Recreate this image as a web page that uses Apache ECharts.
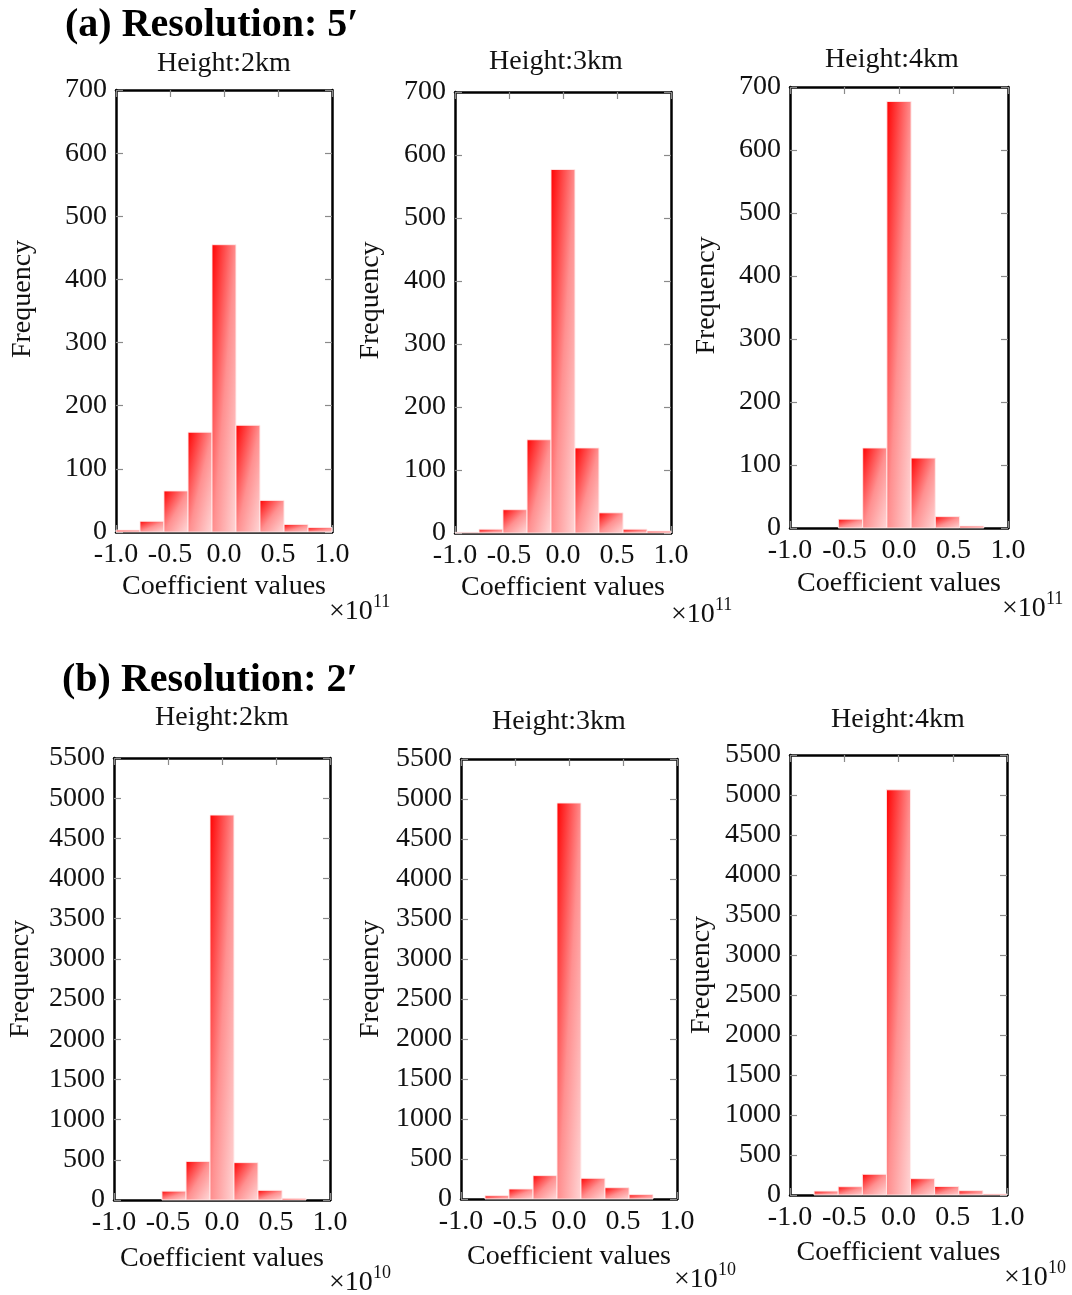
<!DOCTYPE html>
<html>
<head>
<meta charset="utf-8">
<script src="https://cdn.jsdelivr.net/npm/echarts@6/dist/echarts.min.js"></script>
<style>
  html, body { margin: 0; padding: 0; background: #fff; }
  #chart { width: 1072px; height: 1295px; }
</style>
</head>
<body>
<div id="chart"></div>
<script>
// Histogram bin edges (coefficient values, in units of the multiplier)
const binEdges = [-1.0, -0.778, -0.556, -0.333, -0.111, 0.111, 0.333, 0.556, 0.778, 1.0];

// Frequencies per bin, resolution 5'
const res5_h2 = [3, 17, 65, 158, 455, 169, 50, 12, 7];
const res5_h3 = [1, 6, 37, 148, 577, 135, 32, 6, 3];
const res5_h4 = [0, 0, 14, 127, 677, 111, 18, 3, 0];

// Frequencies per bin, resolution 2'
const res2_h2 = [0, 0, 110, 480, 4790, 465, 120, 20, 0];
const res2_h3 = [0, 41, 125, 292, 4950, 259, 141, 54, 0];
const res2_h4 = [0, 49, 103, 259, 5065, 204, 106, 53, 12];

const xTicks = [-1.0, -0.5, 0.0, 0.5, 1.0];
const yMax5 = 700, yStep5 = 100;
const yMax2 = 5500, yStep2 = 500;

const panelTitles = ['Height:2km', 'Height:3km', 'Height:4km'];
const sectionTitles = ['(a) Resolution: 5\u2032', '(b) Resolution: 2\u2032'];
const exponents = ['11', '10'];

const SERIF = '"Liberation Serif", "Times New Roman", serif';
const INK = '#111';
const FS = 28;

const panels = [
  { data: res5_h2, max: yMax5, step: yStep5, exp: 0, grid: { left: 116, top: 90, width: 216, height: 442 }, nameGapY: 79, nameGapX: 41, nameLift: 24,
    title: [224, 64], mult: [329, 612] },
  { data: res5_h3, max: yMax5, step: yStep5, exp: 0, grid: { left: 455, top: 92, width: 216, height: 441 }, nameGapY: 70, nameGapX: 41, nameLift: 24,
    title: [556, 62], mult: [671, 615] },
  { data: res5_h4, max: yMax5, step: yStep5, exp: 0, grid: { left: 790, top: 87, width: 218, height: 441 }, nameGapY: 69, nameGapX: 42, nameLift: 24,
    title: [892, 60], mult: [1002, 609] },
  { data: res2_h2, max: yMax2, step: yStep2, exp: 1, grid: { left: 114, top: 758, width: 216, height: 442 }, nameGapY: 79, nameGapX: 45, nameLift: 0,
    title: [222, 718], mult: [329, 1283] },
  { data: res2_h3, max: yMax2, step: yStep2, exp: 1, grid: { left: 461, top: 759, width: 216, height: 440 }, nameGapY: 76, nameGapX: 44, nameLift: 0,
    title: [559, 722], mult: [674, 1280] },
  { data: res2_h4, max: yMax2, step: yStep2, exp: 1, grid: { left: 790, top: 755, width: 217, height: 440 }, nameGapY: 74, nameGapX: 44, nameLift: 0,
    title: [898, 720], mult: [1004, 1278] }
];

const frameLine = { show: true, onZero: false, lineStyle: { color: '#000', width: 2.5 } };
const innerTick = { show: true, inside: true, length: 7, lineStyle: { color: '#8a8a8a', width: 1.2 } };

const grids = [], xAxes = [], yAxes = [], series = [], graphics = [];

// Bar fill: diagonal gradient laid out in the bar's own unit square,
// dark red in the upper-left corner fading to pale pink in the lower-right.
const barStops = [
  { offset: 0, color: '#ff0000' },
  { offset: 0.5, color: '#ff9090' },
  { offset: 1, color: '#ffdcdc' }
];

function renderBin(params, api) {
  const lo = api.coord([api.value(0), 0]);
  const hi = api.coord([api.value(1), api.value(2)]);
  const x = lo[0], y = hi[1];
  const w = hi[0] - lo[0], h = lo[1] - hi[1];
  if (h <= 0.2) return null;
  const w2 = w * w, h2 = h * h;
  return {
    type: 'rect',
    shape: { x: x, y: y, width: w, height: h },
    style: {
      fill: new echarts.graphic.LinearGradient(0, 0, 2 * h2 / (w2 + h2), 2 * w2 / (w2 + h2), barStops),
      stroke: 'rgba(255,235,235,0.9)',
      lineWidth: 1
    }
  };
}

panels.forEach((p, i) => {
  grids.push(Object.assign({ containLabel: false }, p.grid));
  const xb = xAxes.length;
  xAxes.push({
    gridIndex: i, type: 'value', position: 'bottom', min: xTicks[0], max: xTicks[xTicks.length - 1], interval: 0.5,
    axisLine: frameLine, axisTick: innerTick, splitLine: { show: false },
    axisLabel: { show: true, margin: 9, fontSize: FS, color: INK, fontFamily: SERIF, formatter: v => v.toFixed(1) },
    name: 'Coefficient values', nameLocation: 'middle', nameGap: p.nameGapX,
    nameTextStyle: { fontSize: FS, color: INK, fontFamily: SERIF }
  });
  xAxes.push({
    gridIndex: i, type: 'value', position: 'top', min: xTicks[0], max: xTicks[xTicks.length - 1], interval: 0.5,
    axisLine: frameLine, axisTick: innerTick, splitLine: { show: false }, axisLabel: { show: false }
  });
  const yb = yAxes.length;
  yAxes.push({
    gridIndex: i, type: 'value', position: 'left', min: 0, max: p.max, interval: p.step,
    axisLine: frameLine, axisTick: innerTick, splitLine: { show: false },
    axisLabel: { show: true, margin: 9, fontSize: FS, color: INK, fontFamily: SERIF, formatter: v => String(v) },
    name: 'Frequency', nameLocation: 'middle', nameRotate: 90, nameGap: p.nameGapY,
    nameTextStyle: { fontSize: FS, color: INK, fontFamily: SERIF, padding: [0, 0, 0, p.nameLift] }
  });
  yAxes.push({
    gridIndex: i, type: 'value', position: 'right', min: 0, max: p.max, interval: p.step,
    axisLine: frameLine, axisTick: innerTick, splitLine: { show: false }, axisLabel: { show: false }
  });

  series.push({
    type: 'custom',
    xAxisIndex: xb, yAxisIndex: yb,
    renderItem: renderBin,
    encode: { x: [0, 1], y: 2 },
    silent: true,
    z: 1,
    data: p.data.map((c, k) => [binEdges[k], binEdges[k + 1], c])
  });

  graphics.push({
    type: 'text', x: p.title[0], y: p.title[1],
    style: { text: panelTitles[i % 3], font: FS + 'px ' + SERIF, fill: INK, textAlign: 'center', textVerticalAlign: 'middle' }
  });
  graphics.push({
    type: 'text', x: p.mult[0], y: p.mult[1],
    style: { text: '\u00d710', font: FS + 'px ' + SERIF, fill: INK, textAlign: 'left', textVerticalAlign: 'middle' }
  });
  graphics.push({
    type: 'text', x: p.mult[0] + 44, y: p.mult[1] - 10,
    style: { text: exponents[p.exp], font: '18px ' + SERIF, fill: INK, textAlign: 'left', textVerticalAlign: 'middle' }
  });
});

graphics.push({
  type: 'text', x: 65, y: 26,
  style: { text: sectionTitles[0], font: 'bold 40px ' + SERIF, fill: '#000', textAlign: 'left', textVerticalAlign: 'middle' }
});
graphics.push({
  type: 'text', x: 62, y: 681,
  style: { text: sectionTitles[1], font: 'bold 40px ' + SERIF, fill: '#000', textAlign: 'left', textVerticalAlign: 'middle' }
});

const chart = echarts.init(document.getElementById('chart'), null, { renderer: 'canvas' });
chart.setOption({
  animation: false,
  backgroundColor: '#fff',
  grid: grids,
  xAxis: xAxes,
  yAxis: yAxes,
  series: series,
  graphic: graphics
});
</script>
</body>
</html>
